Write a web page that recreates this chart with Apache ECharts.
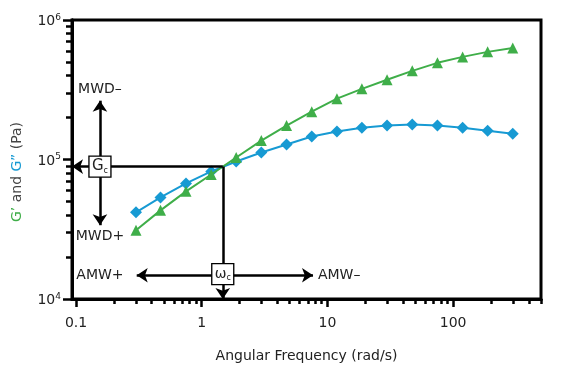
<!DOCTYPE html>
<html><head><meta charset="utf-8">
<script src="https://cdn.jsdelivr.net/npm/echarts@6/dist/echarts.min.js"></script>
<style>html,body{margin:0;padding:0;background:#fff}#c{width:563px;height:368px}</style>
</head><body><div id="c"></div>
<script>
// Data
const freq = [0.3, 0.47, 0.75, 1.19, 1.88, 2.98, 4.73, 7.5, 11.9, 18.8, 29.8, 47.3, 75, 119, 188, 298];
const gPrime = [31100, 43200, 59100, 78100, 103300, 136700, 175000, 220000, 273000, 321000, 373000, 432000, 493000, 544000, 591000, 631000];
const gDouble = [41800, 53500, 67400, 82100, 96800, 112200, 128000, 146000, 158500, 169000, 175000, 178000, 175000, 169000, 161000, 153000];
const xMajorTicks = [0.1, 1, 10, 100];
const xMinorTicks = [0.2,0.3,0.4,0.5,0.6,0.7,0.8,0.9,2,3,4,5,6,7,8,9,20,30,40,50,60,70,80,90,200,300,400,500];
const yMajorTicks = [1e4, 1e5, 1e6];
const yMinorTicks = [2e4,3e4,4e4,5e4,6e4,7e4,8e4,9e4,2e5,3e5,4e5,5e5,6e5,7e5,8e5,9e5];
// Crossover & annotation anchors (data units)
const gc = 89000, wc = 1.47;
const mwdX = 0.155, mwdTop = 264000, mwdBottom = 33800;
const amwY = 14800, amwLeft = 0.304, amwRight = 7.68;
const xMin = 0.0929, xMax = 500, yMin = 1e4, yMax = 1e6;

const FONT = 'DejaVu Sans';
const green = '#3fae49', blue = '#179ad3';
const supFmt = v => { const e = Math.round(Math.log10(v)); return '10{s|' + e + '}'; };

const chart = echarts.init(document.getElementById('c'), null, {renderer:'canvas'});
const baseX = {type:'log', min:xMin, max:xMax, logBase:10, gridIndex:0, position:'bottom',
  splitLine:{show:false}, axisLine:{show:true, onZero:false, lineStyle:{color:'#000', width:3}}};
const baseY = {type:'log', min:yMin, max:yMax, logBase:10, gridIndex:0, position:'left',
  splitLine:{show:false}, axisLine:{show:true, onZero:false, lineStyle:{color:'#000', width:3}}};
chart.setOption({
  animation:false,
  grid:{left:72, right:22, top:20, bottom:68, show:true, borderColor:'#000', borderWidth:3, backgroundColor:'transparent'},
  xAxis:[
    Object.assign({}, baseX, {
      name:'Angular Frequency (rad/s)', nameLocation:'middle', nameGap:50,
      nameTextStyle:{fontFamily:FONT, fontSize:14, color:'#222'},
      axisTick:{show:true, inside:false, length:8, customValues:xMajorTicks, lineStyle:{color:'#000', width:2.5}},
      axisLabel:{show:true, margin:17, customValues:xMajorTicks, fontFamily:FONT, fontSize:14, color:'#222',
        formatter: v => String(v)}
    }),
    Object.assign({}, baseX, {
      axisTick:{show:true, inside:false, length:5, customValues:xMinorTicks, lineStyle:{color:'#000', width:2.5}},
      axisLabel:{show:false}
    })
  ],
  yAxis:[
    Object.assign({}, baseY, {
      axisTick:{show:true, inside:false, length:9, customValues:yMajorTicks, lineStyle:{color:'#000', width:2.5}},
      axisLabel:{show:true, margin:11, customValues:yMajorTicks, fontFamily:FONT, fontSize:14, color:'#222',
        padding:[3,0,0,0],
        formatter: supFmt, rich:{s:{fontFamily:FONT, fontSize:9, verticalAlign:'top', padding:[0,0,8,0], color:'#222'}}}
    }),
    Object.assign({}, baseY, {
      axisTick:{show:true, inside:false, length:6, customValues:yMinorTicks, lineStyle:{color:'#000', width:2.5}},
      axisLabel:{show:false}
    })
  ],
  graphic:[{
    type:'text', x:17, y:172, rotation:Math.PI/2, silent:true,
    style:{text:"{g|G’} {a|and} {b|G”} {p|(Pa)}", align:'center', verticalAlign:'middle',
      font:'14px ' + FONT,
      rich:{g:{fill:green, fontFamily:FONT, fontSize:14}, a:{fill:'#444', fontFamily:FONT, fontSize:14},
            b:{fill:blue, fontFamily:FONT, fontSize:14}, p:{fill:'#444', fontFamily:FONT, fontSize:14}}}
  }],
  series:[
    {
      name:'annot', type:'line', xAxisIndex:0, yAxisIndex:0, data:[], z:2, silent:true,
      markLine:{
        silent:true, animation:false, symbol:['none','arrow'], symbolSize:11,
        label:{show:false}, lineStyle:{color:'#000', width:2.5, type:'solid'},
        emphasis:{disabled:true},
        data:[
          [{coord:[wc, gc], symbol:'none'}, {coord:[xMin, gc], symbol:'arrow'}],
          [{coord:[wc, gc], symbol:'none'}, {coord:[wc, yMin], symbol:'arrow'}],
          [{coord:[mwdX, mwdBottom], symbol:'arrow'}, {coord:[mwdX, mwdTop], symbol:'arrow'}],
          [{coord:[amwLeft, amwY], symbol:'arrow'}, {coord:[amwRight, amwY], symbol:'arrow'}]
        ]
      }
    },
    {
      name:"G''", type:'line', data:freq.map((f,i)=>[f, gDouble[i]]), z:3,
      symbol:'diamond', symbolSize:12, itemStyle:{color:blue}, lineStyle:{color:blue, width:2}
    },
    {
      name:"G'", type:'line', data:freq.map((f,i)=>[f, gPrime[i]]), z:4,
      symbol:'triangle', symbolSize:11, itemStyle:{color:green}, lineStyle:{color:green, width:2}
    },
    {
      name:'labels', type:'line', data:[], z:6, silent:true,
      markPoint:{
        silent:true, animation:false,
        data:[
          {coord:[mwdX, gc], symbol:'rect', symbolSize:[22,21],
            itemStyle:{color:'#fff', borderColor:'#000', borderWidth:1.3},
            label:{show:true, position:'inside', formatter:'G{s|c}', fontFamily:FONT, fontSize:15, color:'#222',
              rich:{s:{fontFamily:FONT, fontSize:8, verticalAlign:'bottom', padding:[8,0,0,0], color:'#222'}}}},
          {coord:[wc, 15100], symbol:'rect', symbolSize:[22,21],
            itemStyle:{color:'#fff', borderColor:'#000', borderWidth:1.3},
            label:{show:true, position:'inside', formatter:'ω{s|c}', fontFamily:FONT, fontSize:14, color:'#222',
              rich:{s:{fontFamily:FONT, fontSize:8, verticalAlign:'bottom', padding:[8,0,0,0], color:'#222'}}}},
          {coord:[mwdX, 316000], symbol:'rect', symbolSize:0, itemStyle:{color:'transparent'},
            label:{show:true, position:'inside', formatter:'MWD–', fontFamily:FONT, fontSize:14, color:'#222'}},
          {coord:[mwdX, 28200], symbol:'rect', symbolSize:0, itemStyle:{color:'transparent'},
            label:{show:true, position:'inside', formatter:'MWD+', fontFamily:FONT, fontSize:14, color:'#222'}},
          {coord:[mwdX, amwY], symbol:'rect', symbolSize:0, itemStyle:{color:'transparent'},
            label:{show:true, position:'inside', formatter:'AMW+', fontFamily:FONT, fontSize:14, color:'#222'}},
          {coord:[12.4, amwY], symbol:'rect', symbolSize:0, itemStyle:{color:'transparent'},
            label:{show:true, position:'inside', formatter:'AMW–', fontFamily:FONT, fontSize:14, color:'#222'}}
        ]
      }
    }
  ]
});
</script></body></html>
